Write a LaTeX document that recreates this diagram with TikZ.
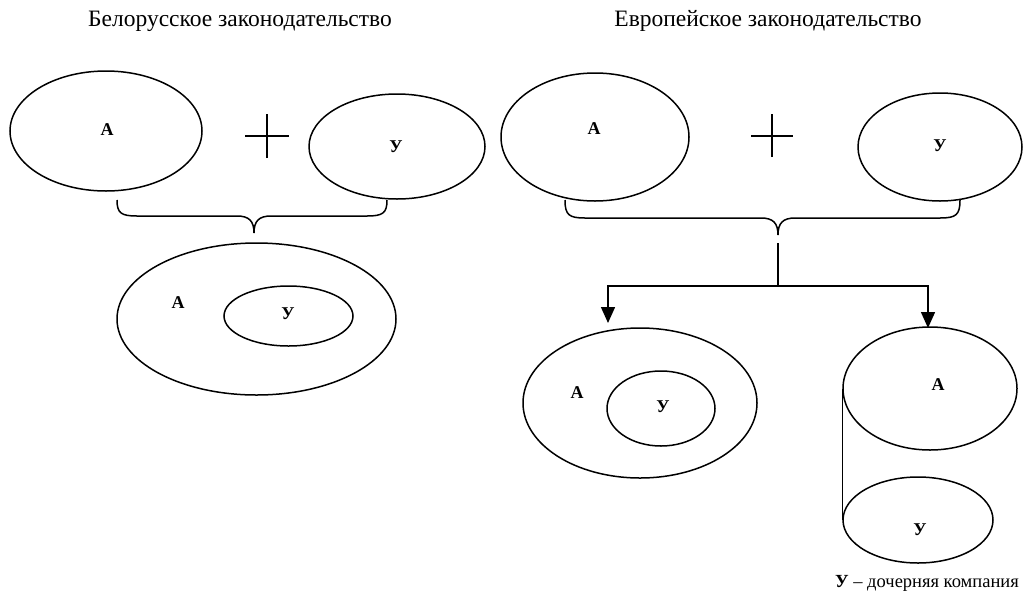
\documentclass[tikz,border=0pt]{standalone}
\usepackage{fontspec}
\setmainfont{Liberation Serif}
\usetikzlibrary{shapes.geometric,arrows.meta}

\tikzset{
  oval/.style 2 args={draw, ellipse, line width=1.5pt, inner sep=0pt,
    minimum width=#1pt, minimum height=#2pt},
  lbl/.style={font=\bfseries\fontsize{18}{18}\selectfont, inner sep=0pt},
  title/.style={font=\fontsize{23.5}{23.5}\selectfont, inner sep=0pt},
  note/.style={font=\fontsize{18.5}{18.5}\selectfont, inner sep=0pt},
  line/.style={line width=1.5pt},
  plusline/.style={line width=1.2pt},
  arr/.style={line width=1.5pt, -{Triangle[width=14pt,length=16pt]}}
}

\begin{document}
\begin{tikzpicture}[x=1pt, y=-1pt]
\useasboundingbox (0,0) rectangle (1025,595);

% headings
\node[title] (t1) at (240,21) {Белорусское законодательство};
\node[title] (t2) at (768,21) {Европейское законодательство};

% ---- left scheme: A + У -> У inside A ----
\node[oval={192}{120}] (a1) at (106,131) {};
\node[lbl] (a1l) at (107,130) {А};
\node[oval={176}{105}] (u1) at (397,146.5) {};
\node[lbl] (u1l) at (396,147) {У};
\coordinate (p1) at (267,136);
\draw[plusline] ([xshift=-22pt]p1) -- ([xshift=22pt]p1);
\draw[plusline] ([yshift=-22pt]p1) -- ([yshift=22pt]p1);

\coordinate (b1l) at (117,200);
\coordinate (b1r) at (387,200);
\coordinate (b1t) at (254,233);
\draw[line] (b1l) .. controls (117,213) and (121,216) .. (137,216)
  -- (237,216) .. controls (249,216) and (254,221) .. (b1t)
  .. controls (254,221) and (259,216) .. (271,216)
  -- (367,216) .. controls (383,216) and (387,213) .. (b1r);

\node[oval={279}{152}] (m1) at (256.5,319) {};
\node[oval={129}{60}] (n1) at (288.5,316) {};
\node[lbl] (m1l) at (178,303) {А};
\node[lbl] (n1l) at (288,314) {У};

% ---- right scheme: A + У -> two variants ----
\node[oval={188}{128}] (a2) at (595,137) {};
\node[lbl] (a2l) at (594,129) {А};
\node[oval={164}{108}] (u2) at (940,147) {};
\node[lbl] (u2l) at (940,146) {У};
\coordinate (p2) at (772,136);
\draw[plusline] ([xshift=-21pt]p2) -- ([xshift=21pt]p2);
\draw[plusline] ([yshift=-21pt]p2) -- ([yshift=22pt]p2);

\coordinate (b2l) at (565,200);
\coordinate (b2r) at (960,200);
\coordinate (b2t) at (778,235);
\draw[line] (b2l) .. controls (565,215) and (569,218) .. (585,218)
  -- (761,218) .. controls (773,218) and (778,223) .. (b2t)
  .. controls (778,223) and (783,218) .. (795,218)
  -- (940,218) .. controls (956,218) and (960,215) .. (b2r);

\coordinate (s2) at (778,243);
\coordinate (j2) at (778,286);
\coordinate (tl) at (608,323);
\coordinate (tr) at (928,328);
\draw[line] (s2) -- (j2);
\draw[arr] (j2) -| (tl);
\draw[arr] (j2) -| (tr);

% variant 1: subsidiary inside the parent
\node[oval={234}{150}] (m2) at (640,403) {};
\node[oval={108}{75}] (n2) at (661,408.5) {};
\node[lbl] (m2l) at (577,393) {А};
\node[lbl] (n2l) at (663,407) {У};

% variant 2: parent above subsidiary
\node[oval={174}{123}] (c1) at (930,388.5) {};
\node[oval={150}{86}] (c2) at (918,520) {};
\node[lbl] (c1l) at (938,385) {А};
\node[lbl] (c2l) at (920,530) {У};
\draw[line] (c1.west) -- (c2.west);

% legend
\node[note, anchor=east] (leg) at (1019,583) {\textbf{У} -- дочерняя компания};
\end{tikzpicture}
\end{document}
